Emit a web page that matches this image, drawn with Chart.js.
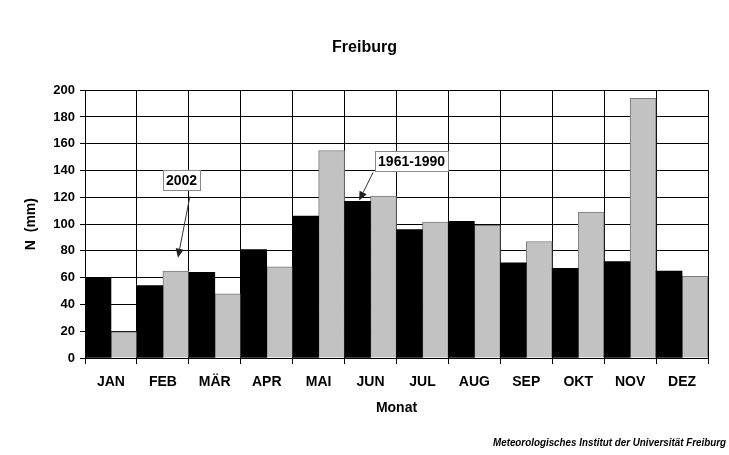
<!DOCTYPE html>
<html>
<head>
<meta charset="utf-8">
<script src="https://cdn.jsdelivr.net/npm/chart.js@4/dist/chart.umd.min.js"></script>
<style>
html,body{margin:0;padding:0;background:#fff;}
#wrap{width:729px;height:455px;position:relative;}
</style>
</head>
<body>
<div id="wrap"><canvas id="c" width="729" height="455"></canvas></div>
<script>
const months = ['JAN','FEB','MÄR','APR','MAI','JUN','JUL','AUG','SEP','OKT','NOV','DEZ'];
const normal6190 = [60, 54, 64, 81, 106, 117, 96, 102, 71, 67, 72, 65];
const year2002 = [19.5, 65, 48, 68, 155, 121, 101.5, 99, 87, 109, 194, 61];
const yTicks = [0, 20, 40, 60, 80, 100, 120, 140, 160, 180, 200];
const chartTitle = 'Freiburg';
const xTitle = 'Monat';
const yTitle = 'N  (mm)';
const footer = 'Meteorologisches Institut der Universität Freiburg';
// callouts: label, box center (category index, value), arrow start, arrow tip
const callouts = [
  {text: '2002', box: [1.36, 133], from: [1.52, 120.6], to: [1.29, 74.9]},
  {text: '1961-1990', box: [5.79, 147.2], from: [5.05, 138.6], to: [4.78, 117.6]}
];

const FONT = '"Liberation Sans", Arial, sans-serif';

const calloutPlugin = {
  id: 'callouts',
  afterDatasetsDraw(chart) {
    const ctx = chart.ctx, xs = chart.scales.x, ys = chart.scales.y;
    const px = v => xs.getPixelForValue(v[0]);
    const py = v => ys.getPixelForValue(v[1]);
    ctx.save();
    callouts.forEach(c => {
      const x1 = px(c.from), y1 = py(c.from), x2 = px(c.to), y2 = py(c.to);
      ctx.strokeStyle = '#333'; ctx.fillStyle = '#222'; ctx.lineWidth = 1;
      const ang = Math.atan2(y2 - y1, x2 - x1);
      const hl = 9, hw = 4;
      const bx = x2 - hl * Math.cos(ang), by = y2 - hl * Math.sin(ang);
      ctx.beginPath(); ctx.moveTo(x1, y1); ctx.lineTo(bx, by); ctx.stroke();
      ctx.beginPath();
      ctx.moveTo(x2, y2);
      ctx.lineTo(bx + hw * Math.sin(ang), by - hw * Math.cos(ang));
      ctx.lineTo(bx - hw * Math.sin(ang), by + hw * Math.cos(ang));
      ctx.closePath(); ctx.fill();
      ctx.font = 'bold 14px ' + FONT;
      const tw = ctx.measureText(c.text).width;
      const cx = px(c.box), cy = py(c.box);
      const w = tw + 6, h = 20;
      ctx.fillStyle = '#fff';
      ctx.fillRect(Math.round(cx - w / 2) + 0.5, Math.round(cy - h / 2) + 0.5, Math.round(w), h);
      ctx.strokeStyle = '#888';
      ctx.strokeRect(Math.round(cx - w / 2) + 0.5, Math.round(cy - h / 2) + 0.5, Math.round(w), h);
      ctx.fillStyle = '#000'; ctx.textAlign = 'center'; ctx.textBaseline = 'middle';
      ctx.fillText(c.text, cx, cy + 1);
    });
    ctx.restore();
  },
  afterDraw(chart) {
    const ctx = chart.ctx;
    ctx.save();
    ctx.font = 'italic bold 11px ' + FONT;
    ctx.fillStyle = '#000'; ctx.textAlign = 'right'; ctx.textBaseline = 'middle';
    ctx.fillText(footer, 726, 443, 233);
    ctx.restore();
  }
};

new Chart(document.getElementById('c'), {
  type: 'bar',
  data: {
    labels: months,
    datasets: [
      {label: '1961-1990', data: normal6190, backgroundColor: '#000', borderColor: '#000', borderWidth: 0,
       barPercentage: 1, categoryPercentage: 1},
      {label: '2002', data: year2002, backgroundColor: '#c2c2c2', borderColor: '#7a7a7a', borderWidth: 1,
       barPercentage: 1, categoryPercentage: 1}
    ]
  },
  options: {
    responsive: false,
    animation: false,
    devicePixelRatio: 1,
    layout: {padding: {left: 21, right: 21, top: 0, bottom: 37}},
    plugins: {
      legend: {display: false},
      tooltip: {enabled: false},
      title: {display: true, text: chartTitle, color: '#000',
        font: {family: FONT, size: 16, weight: 'bold', lineHeight: 1.2},
        padding: {top: 38, bottom: 33}}
    },
    scales: {
      x: {
        grid: {color: '#000', lineWidth: 1, tickLength: 6, offset: true, drawTicks: true},
        border: {color: '#000', width: 1},
        ticks: {color: '#000', font: {family: FONT, size: 14, weight: 'bold'}, padding: 10, maxRotation: 0, autoSkip: false},
        title: {display: true, text: xTitle, color: '#000', font: {family: FONT, size: 14, weight: 'bold', lineHeight: 1.2},
          padding: {top: 0, bottom: 1}},
        afterFit(s) { s.height = 60; }
      },
      y: {
        min: 0, max: 200,
        afterBuildTicks(s) { s.ticks = yTicks.map(v => ({value: v})); },
        grid: {color: '#000', lineWidth: 1, tickLength: 5},
        border: {color: '#000', width: 1},
        ticks: {color: '#000', font: {family: FONT, size: 13, weight: 'bold'}, padding: 5},
        title: {display: true, text: yTitle, color: '#000', font: {family: FONT, size: 14, weight: 'bold', lineHeight: 1.2},
          padding: {top: 2, bottom: 0}},
        afterFit(s) { s.width = 64; }
      }
    }
  },
  plugins: [calloutPlugin]
});
</script>
</body>
</html>
